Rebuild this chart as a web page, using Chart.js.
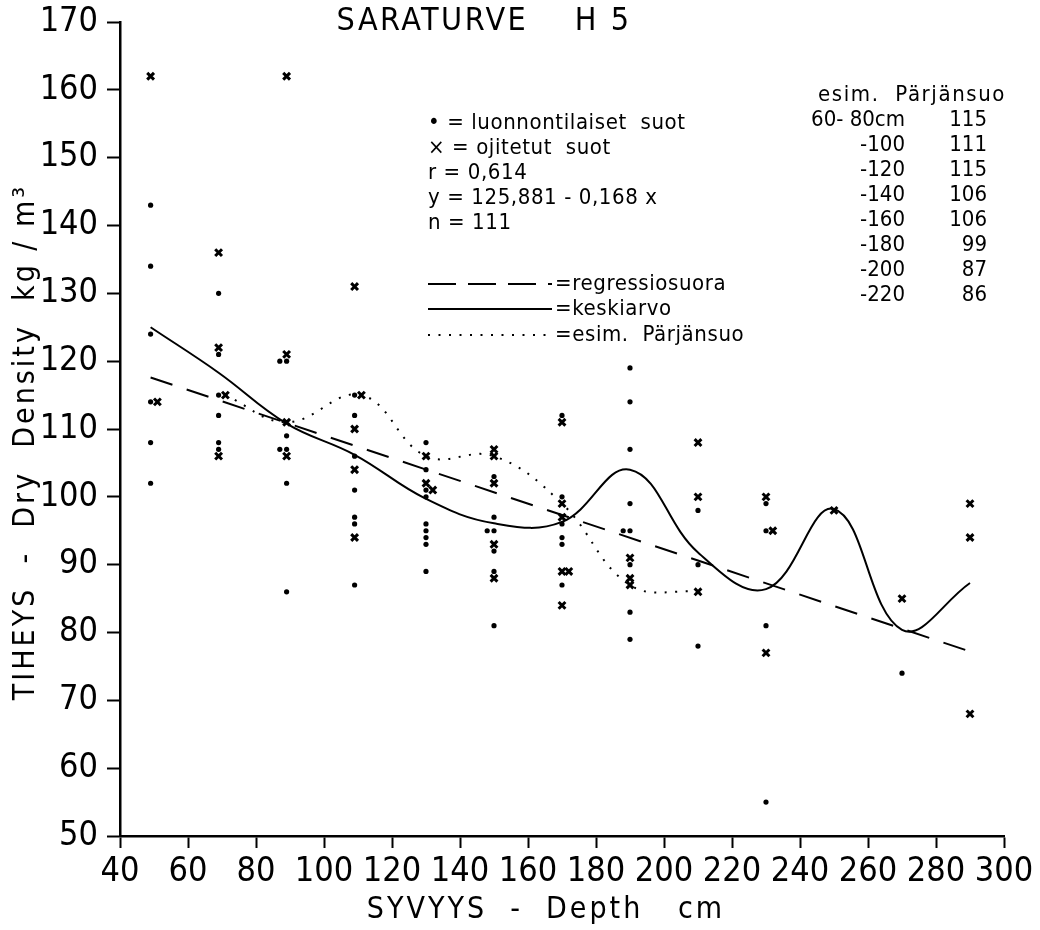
<!DOCTYPE html>
<html><head><meta charset="utf-8">
<script src="https://cdn.jsdelivr.net/npm/chart.js@4/dist/chart.umd.min.js"></script>
<style>html,body{margin:0;padding:0;background:#fff}#wrap{width:1040px;height:930px}</style>
</head><body><div id="wrap"><canvas id="c" width="1040" height="930"></canvas></div>
<script>
// ---- data ----
const dotDepth   = [49,49,49,49,49,49, 69,69,69,69,69,69, 89,87,89,89,87,89,89, 109,109,109,109,109,109,109, 130,130,130,130,130,130,130,130,130, 150,150,150,148,150,150,150, 170,170,170,170,170,170, 190,190,190,190,190,188,190,190,190, 210,210,210, 230,230,230,230, 270];
const dotDensity = [143,134,124,114,108,102, 130,121,115,112,108,107, 120,120,109,107,107,102,86, 115,112,106,101,97,96,87, 108,104,101,100,96,95,94,93,89, 103,97,95,95,92,89,81, 112,100,96,94,93,87, 119,114,107,99,95,95,90,83,79, 98,90,78, 99,95,81,55, 74];
const crossDepth   = [49,51, 69,69,69,71, 89,89,89,89, 109,109,109,109,111, 130,130,132, 150,150,150,150,150, 170,170,170,170,170,172, 190,190,190, 210,210,210, 230,230,232, 250, 270, 290,290,290];
const crossDensity = [162,114, 136,122,106,115, 162,121,111,106, 131,110,104,94,115, 106,102,101, 107,106,102,93,88, 111,99,97,89,84,89, 91,88,87, 108,100,86, 100,77,95, 98, 85, 99,94,68];
const meanDepth   = [49,69,89,109,130,150,170,190,210,230,250,270,290];
const meanDensity = [125,118.3,110.8,106.2,99.7,96.1,96.3,104,91.8,86.4,98.2,80.4,87.3];
const parjDepth   = [71,89,111,130,150,170,190,210];
const parjDensity = [115,111,115,106,106,99,87,86];
const regDepth    = [49,290];
const regDensity  = [117.6,77.2];
const xTitle = 'SYVYYS  -  Depth   cm';
const yTitle = 'TIHEYS  -  Dry  Density  kg / m³';
const chartTitle = 'SARATURVE    H 5';
const tableHeader = 'esim.  Pärjänsuo';
const tableDepthLabels = ['60- 80cm','-100','-120','-140','-160','-180','-200','-220'];
const tableValues = ['115','111','115','106','106','99','87','86'];
const legendLines = ['• = luonnontilaiset  suot','× = ojitetut  suot','r = 0,614','y = 125,881 - 0,168 x','n = 111'];
const legendKeys = ['=regressiosuora', '=keskiarvo', '=esim.  Pärjänsuo'];

const FONT = '"DejaVu Sans Condensed", "Liberation Sans", sans-serif';
const pts = (xs, ys) => xs.map((x, i) => ({x, y: ys[i]}));

const textPlugin = {
  id: 'texts',
  afterDraw(chart) {
    const ctx = chart.ctx;
    ctx.save();
    ctx.fillStyle = '#000';
    ctx.textBaseline = 'middle';
    // main title
    ctx.font = '32px ' + FONT;
    ctx.letterSpacing = '2.5px';
    ctx.textAlign = 'center';
    ctx.fillText(chartTitle, 484, 22);
    // axis titles
    ctx.font = '30px ' + FONT;
    ctx.letterSpacing = '3px';
    ctx.fillText(xTitle, 546, 910);
    ctx.save();
    ctx.translate(26, 442);
    ctx.rotate(-Math.PI / 2);
    ctx.fillText(yTitle, 0, 0);
    ctx.restore();
    // legend text
    ctx.font = '22px ' + FONT;
    ctx.letterSpacing = '0.6px';
    ctx.textAlign = 'left';
    legendLines.forEach((t, i) => ctx.fillText(t, 428, 123 + i * 25));
    const ly = [284, 309, 335];
    ctx.strokeStyle = '#000';
    ly.forEach((y, i) => {
      ctx.beginPath();
      ctx.lineWidth = 2;
      if (i === 0) ctx.setLineDash([28, 12]);
      else if (i === 2) ctx.setLineDash([2, 8.5]);
      else ctx.setLineDash([]);
      ctx.moveTo(428, y); ctx.lineTo(552, y); ctx.stroke();
      ctx.setLineDash([]);
      ctx.fillText(legendKeys[i], 555, y);
    });
    // right table
    ctx.letterSpacing = '1.6px';
    ctx.fillText(tableHeader, 818, 95);
    ctx.letterSpacing = '0px';
    ctx.textAlign = 'right';
    tableDepthLabels.forEach((t, i) => {
      ctx.fillText(t, 905, 120 + i * 25);
      ctx.fillText(tableValues[i], 987, 120 + i * 25);
    });
    ctx.restore();
  }
};

new Chart(document.getElementById('c'), {
  type: 'scatter',
  data: {
    datasets: [
      {label: 'regressiosuora', data: pts(regDepth, regDensity), showLine: true, borderColor: '#000', borderWidth: 2, borderDash: [23, 15], pointRadius: 0, fill: false},
      {label: 'keskiarvo', data: pts(meanDepth, meanDensity), showLine: true, borderColor: '#000', borderWidth: 2, tension: 0.4, pointRadius: 0, fill: false},
      {label: 'esim. Pärjänsuo', data: pts(parjDepth, parjDensity), showLine: true, borderColor: '#000', borderWidth: 2, borderDash: [2, 8.5], tension: 0.4, pointRadius: 0, fill: false},
      {label: 'luonnontilaiset suot', data: pts(dotDepth, dotDensity), pointStyle: 'circle', pointRadius: 2.6, backgroundColor: '#000', borderColor: '#000', borderWidth: 0},
      {label: 'ojitetut suot', data: pts(crossDepth, crossDensity), pointStyle: 'crossRot', pointRadius: 4.8, borderColor: '#000', borderWidth: 3}
    ]
  },
  options: {
    responsive: false, animation: false, devicePixelRatio: 1,
    layout: {padding: {top: 22, right: 36, left: 0, bottom: 0}},
    plugins: {legend: {display: false}, tooltip: {enabled: false}, title: {display: false}},
    scales: {
      x: {
        type: 'linear', min: 40, max: 300,
        afterFit(s) { s.height = 94; s.paddingLeft = 0; s.paddingRight = 0; },
        ticks: {stepSize: 20, color: '#000', padding: 4, font: {size: 34, family: FONT}, maxRotation: 0, autoSkip: false},
        grid: {drawOnChartArea: false, drawTicks: true, tickLength: 12, tickWidth: 2, tickColor: '#000'},
        border: {display: true, color: '#000', width: 2.5},
        title: {display: false}
      },
      y: {
        type: 'linear', min: 50, max: 170,
        afterFit(s) { s.width = 120; s.paddingTop = 0; s.paddingBottom = 0; },
        ticks: {stepSize: 10, color: '#000', padding: 9, font: {size: 34, family: FONT}, autoSkip: false},
        grid: {drawOnChartArea: false, drawTicks: true, tickLength: 13, tickWidth: 2, tickColor: '#000'},
        border: {display: true, color: '#000', width: 2.5},
        title: {display: false}
      }
    }
  },
  plugins: [textPlugin]
});
</script></body></html>
